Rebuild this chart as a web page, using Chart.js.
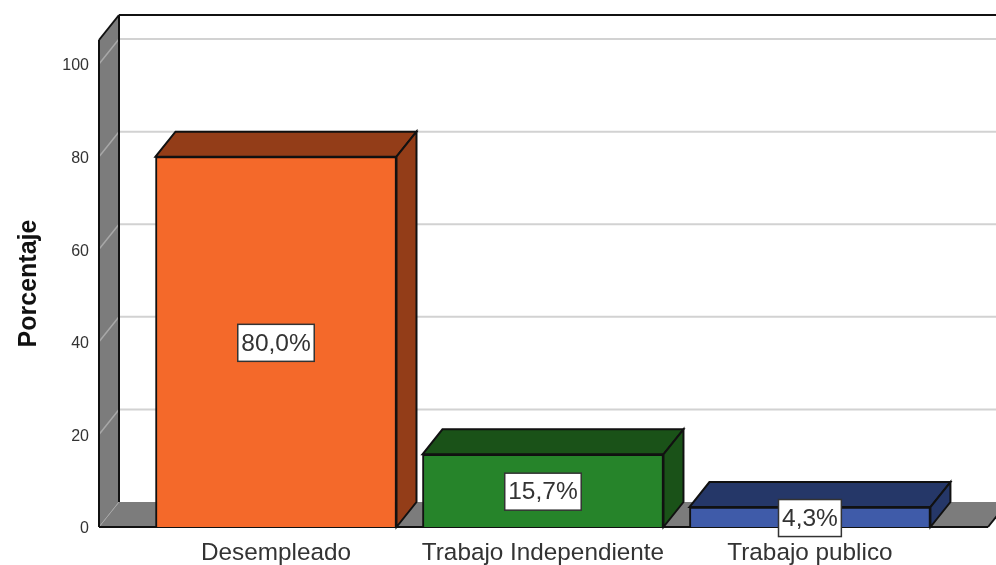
<!DOCTYPE html>
<html>
<head>
<meta charset="utf-8">
<title>Porcentaje</title>
<script src="https://cdn.jsdelivr.net/npm/chart.js@4"></script>
<style>
    body { margin: 0; background: #fff; }
</style>
</head>
<body>
<canvas id="chart" width="996" height="565"></canvas>
<script>
const categories = ['Desempleado', 'Trabajo Independiente', 'Trabajo publico'];
const percentages = [80.0, 15.7, 4.3];
const valueLabels = ['80,0%', '15,7%', '4,3%'];
const barColors = ['#F4692A', '#26842A', '#3F5BA9'];
const sideColors = ['#933D18', '#1A5218', '#253768'];
const yTicks = [0, 20, 40, 60, 80, 100];

// Size of the fake 3D depth
const depthX = 20;
const depthY = 25;
const wallColor = '#7C7C7C';
const gridColor = '#D2D2D2';
const lineColor = '#111';
const fontFamily = '"Liberation Sans", Arial, sans-serif';

function polygon(ctx, points, fill, stroke) {
    ctx.beginPath();
    points.forEach((p, i) => i ? ctx.lineTo(p[0], p[1]) : ctx.moveTo(p[0], p[1]));
    ctx.closePath();
    ctx.fillStyle = fill;
    ctx.fill();
    if (stroke) {
        ctx.lineWidth = 2;
        ctx.strokeStyle = stroke;
        ctx.stroke();
    }
}

function line(ctx, x1, y1, x2, y2, color, width) {
    ctx.beginPath();
    ctx.moveTo(x1, y1);
    ctx.lineTo(x2, y2);
    ctx.strokeStyle = color;
    ctx.lineWidth = width;
    ctx.stroke();
}

// Walls, floor and gridlines behind the bars
const wallsPlugin = {
    id: 'walls',
    beforeDatasetsDraw(chart) {
        const { ctx, chartArea: a, scales: { y } } = chart;
        ctx.save();
        polygon(ctx, [[a.left, a.top], [a.left + depthX, a.top - depthY], [a.left + depthX, a.bottom - depthY], [a.left, a.bottom]], wallColor);
        polygon(ctx, [[a.left, a.bottom], [a.left + depthX, a.bottom - depthY], [a.right + depthX, a.bottom - depthY], [a.right, a.bottom]], wallColor);
        yTicks.slice(1).forEach(t => {
            const py = y.getPixelForValue(t);
            line(ctx, a.left + depthX, py - depthY, a.right + depthX, py - depthY, gridColor, 2);
            line(ctx, a.left, py, a.left + depthX, py - depthY, '#A8A8A8', 1.5);
        });
        line(ctx, a.left, a.bottom, a.left + depthX, a.bottom - depthY, '#A8A8A8', 1);
        line(ctx, a.left + depthX, a.top - depthY, a.right + depthX, a.top - depthY, lineColor, 2);
        line(ctx, a.left + depthX, a.top - depthY, a.left + depthX, a.bottom - depthY, lineColor, 2);
        line(ctx, a.left, a.top, a.left + depthX, a.top - depthY, lineColor, 2);
        line(ctx, a.left, a.top, a.left, a.bottom, lineColor, 2);
        line(ctx, a.left, a.bottom, a.right, a.bottom, lineColor, 2);
        line(ctx, a.right, a.bottom, a.right + depthX, a.bottom - depthY, lineColor, 2);
        ctx.restore();
    }
};

// Top and side faces of the bars, then the value boxes
const barFacesPlugin = {
    id: 'barFaces',
    afterDatasetsDraw(chart) {
        const { ctx, scales: { y } } = chart;
        const bars = chart.getDatasetMeta(0).data;
        ctx.save();
        bars.forEach((bar, i) => {
            const l = bar.x - bar.width / 2;
            const r = bar.x + bar.width / 2;
            const t = bar.y;
            const b = bar.base;
            polygon(ctx, [[l, t], [l + depthX, t - depthY], [r + depthX, t - depthY], [r, t]], sideColors[i], lineColor);
            polygon(ctx, [[r, t], [r + depthX, t - depthY], [r + depthX, b - depthY], [r, b]], sideColors[i], lineColor);
        });
        ctx.font = '24.5px ' + fontFamily;
        ctx.textAlign = 'center';
        ctx.textBaseline = 'middle';
        bars.forEach((bar, i) => {
            const cy = y.getPixelForValue(percentages[i] / 2) + 1;
            const w = ctx.measureText(valueLabels[i]).width + 7;
            const h = 37;
            ctx.fillStyle = '#fff';
            ctx.fillRect(bar.x - w / 2, cy - h / 2, w, h);
            ctx.lineWidth = 1.5;
            ctx.strokeStyle = '#333';
            ctx.strokeRect(bar.x - w / 2, cy - h / 2, w, h);
            ctx.fillStyle = '#333';
            ctx.fillText(valueLabels[i], bar.x, cy + 1);
        });
        ctx.restore();
    }
};

new Chart(document.getElementById('chart').getContext('2d'), {
    type: 'bar',
    data: {
        labels: categories,
        datasets: [{
            data: percentages.map((v, i) => ({ x: i, y: v })),
            backgroundColor: barColors,
            borderColor: lineColor,
            borderWidth: 2,
            barThickness: 241
        }]
    },
    plugins: [wallsPlugin, barFacesPlugin],
    options: {
        responsive: false,
        animation: false,
        layout: { padding: { top: 40, right: 8, left: 0, bottom: 0 } },
        plugins: { legend: { display: false }, tooltip: { enabled: false } },
        scales: {
            x: {
                type: 'linear',
                offset: false,
                min: -0.663,
                max: 2.667,
                grid: { display: false, drawTicks: false },
                border: { display: false },
                afterBuildTicks(scale) {
                    scale.ticks = categories.map((c, i) => ({ value: i }));
                },
                afterFit(scale) { scale.height = 38; },
                ticks: {
                    autoSkip: false,
                    maxRotation: 0,
                    padding: 12,
                    color: '#333',
                    font: { family: fontFamily, size: 24.3 },
                    callback: v => categories[v]
                }
            },
            y: {
                min: 0,
                max: 105.2,
                grid: { display: false, drawTicks: false },
                border: { display: false },
                afterBuildTicks(scale) {
                    scale.ticks = yTicks.map(v => ({ value: v }));
                },
                afterFit(scale) { scale.width = 99; },
                ticks: {
                    padding: 10,
                    labelOffset: 2,
                    color: '#333',
                    font: { family: fontFamily, size: 16 },
                    callback: v => String(v)
                },
                title: {
                    display: true,
                    text: 'Porcentaje',
                    color: '#111',
                    padding: { top: 14, bottom: 0 },
                    font: { family: fontFamily, size: 25, weight: 'bold' }
                }
            }
        }
    }
});
</script>
</body>
</html>
